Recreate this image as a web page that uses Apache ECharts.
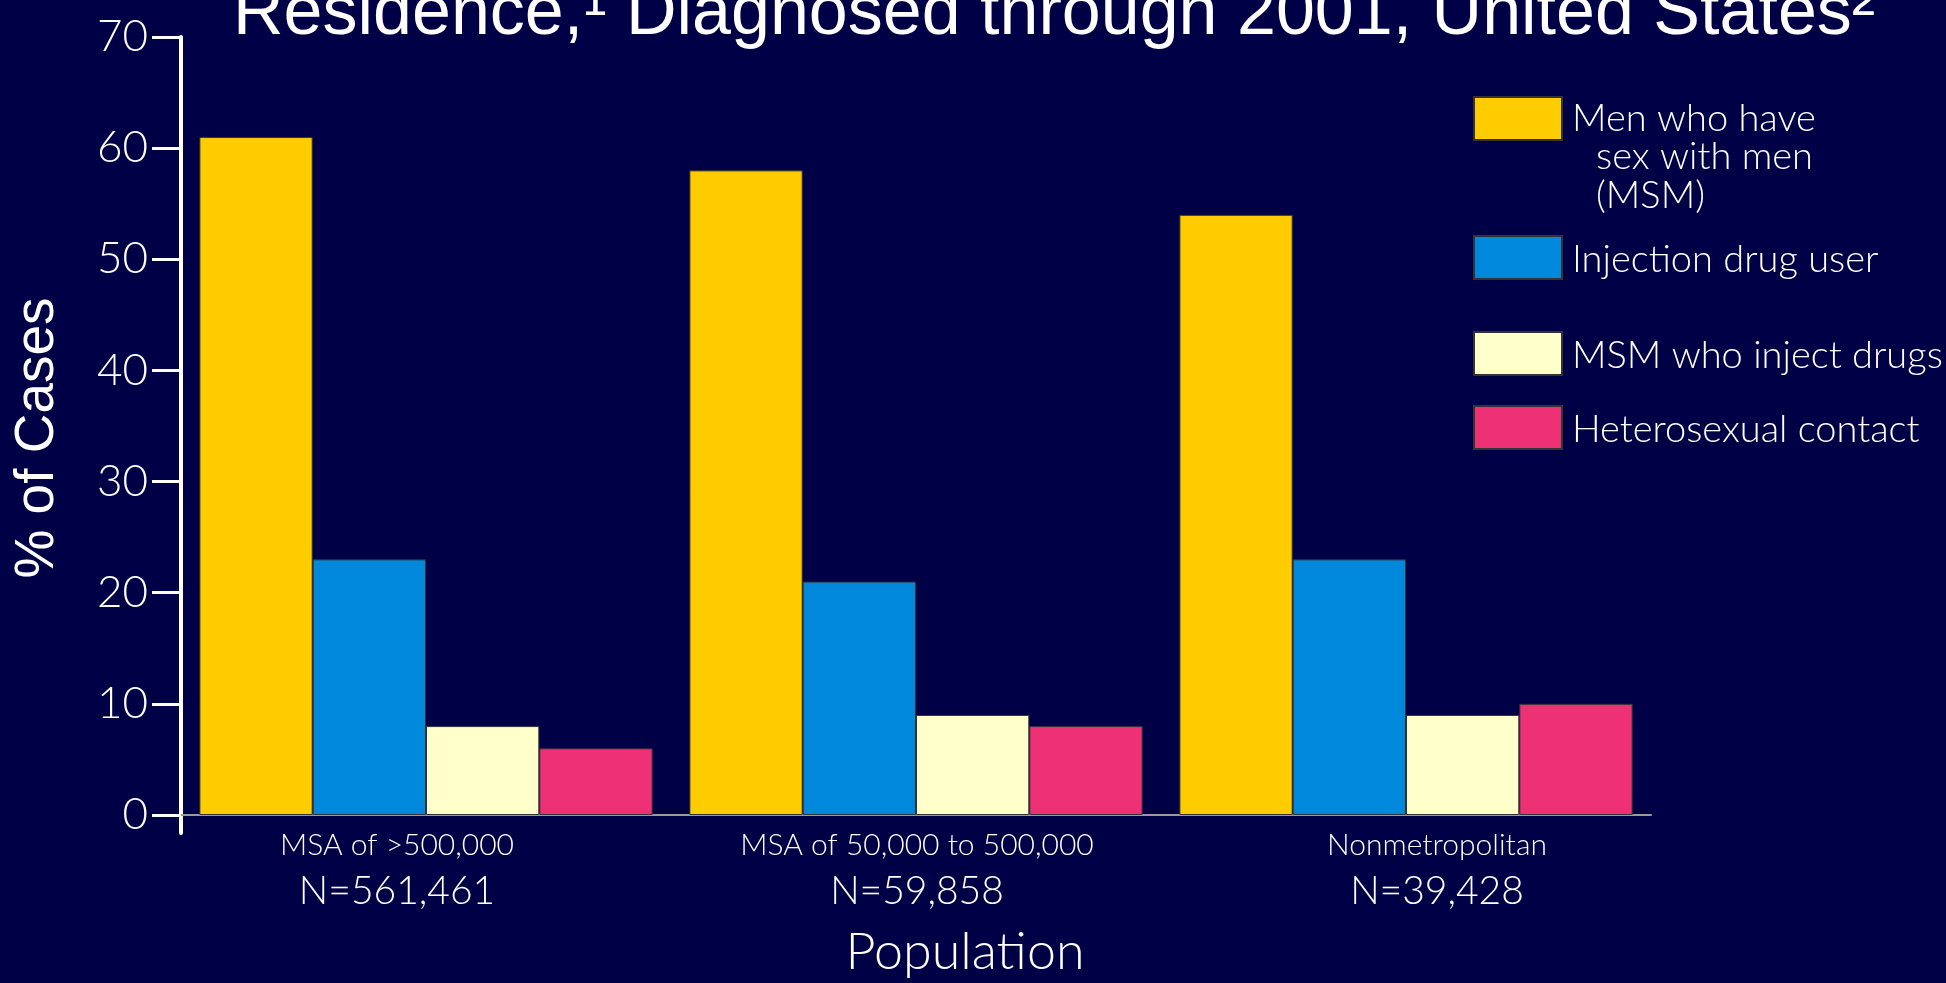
<!DOCTYPE html>
<html>
<head>
<meta charset="utf-8">
<title>AIDS cases by exposure category and area of residence</title>
<script src="https://cdn.jsdelivr.net/npm/echarts@6/dist/echarts.min.js"></script>
<style>
  html, body { margin: 0; padding: 0; background: #000046; }
  #chart { width: 1946px; height: 983px; }
</style>
</head>
<body>
<div id="chart"></div>
<script>
// Area of residence (x-axis groups) and case counts shown under each group
const categories = ['MSA of >500,000', 'MSA of 50,000 to 500,000', 'Nonmetropolitan'];
const caseCounts = ['N=561,461', 'N=59,858', 'N=39,428'];

// Percent of cases by exposure category
const seriesNames = ['Men who have sex with men (MSM)', 'Injection drug user', 'MSM who inject drugs', 'Heterosexual contact'];
const msm = [61, 58, 54];
const idu = [23, 21, 23];
const msmIdu = [8, 9, 9];
const hetero = [6, 8, 10];

// Y-axis range
const yMin = 0;
const yMax = 70;
const yStep = 10;

const colors = ['#FFCC00', '#0088DD', '#FFFFCC', '#EE3175'];
const seriesValues = [msm, idu, msmIdu, hetero];

const FUT = 'Lato, "Noto Sans", sans-serif';
const ARIAL = '"Liberation Sans", Arial, sans-serif';

const chart = echarts.init(document.getElementById('chart'), null, { renderer: 'canvas' });

const legendTops = [96, 235, 331, 405];
const legends = seriesNames.map((name, i) => {
  const first = i === 0;
  return {
    data: [name],
    left: 1473,
    top: legendTops[i],
    padding: 0,
    orient: 'vertical',
    selectedMode: false,
    icon: 'rect',
    itemWidth: 88,
    itemHeight: 43,
    formatter: first ? '{a|Men who have}\n{b|sex with men}\n{b|(MSM)}' : '{a|{name}}',
    textStyle: {
      color: '#ffffff',
      fontFamily: FUT,
      fontWeight: 300,
      fontSize: 38,
      padding: first ? [77, 0, 0, 5] : [4, 0, 0, 5],
      rich: {
        a: { color: '#ffffff', fontFamily: FUT, fontWeight: 300, fontSize: 38, lineHeight: 38.5 },
        b: { color: '#ffffff', fontFamily: FUT, fontWeight: 300, fontSize: 38, lineHeight: 38.5, padding: [0, 0, 0, 24] }
      }
    }
  };
});

const option = {
  backgroundColor: '#000046',
  animation: false,
  title: {
    text: 'Residence,\u00B9 Diagnosed through 2001, United States\u00B2',
    left: 233,
    top: -20,
    padding: 0,
    textStyle: {
      color: '#ffffff',
      fontFamily: ARIAL,
      fontWeight: 'normal',
      fontSize: 70,
      lineHeight: 70
    }
  },
  legend: legends,
  grid: [
    // bars
    { left: 181, right: 295, top: 37, bottom: 168 },
    // group labels under the bars
    { left: 137, right: 249, top: 37, bottom: 168 },
    // vertical axis rule, running slightly below zero
    { left: 181, right: 295, top: 37, bottom: 150 }
  ],
  xAxis: [
    {
      gridIndex: 0,
      type: 'category',
      data: categories,
      axisLine: { show: true, lineStyle: { color: '#9a9a9a', width: 2 } },
      axisTick: { show: false },
      axisLabel: { show: false }
    },
    {
      gridIndex: 1,
      type: 'category',
      data: categories,
      axisLine: { show: false },
      axisTick: { show: false },
      axisLabel: {
        show: true,
        margin: 12,
        interval: 0,
        formatter: (v, idx) => '{a|' + v + '}\n{b|' + caseCounts[idx] + '}',
        rich: {
          a: { color: '#ffffff', fontFamily: FUT, fontWeight: 300, fontSize: 30, lineHeight: 46 },
          b: { color: '#ffffff', fontFamily: FUT, fontWeight: 300, fontSize: 39, lineHeight: 46 }
        }
      },
      name: 'Population',
      nameLocation: 'middle',
      nameGap: 116,
      nameTextStyle: {
        color: '#ffffff',
        fontFamily: FUT,
        fontWeight: 300,
        fontSize: 52,
        lineHeight: 52,
        padding: [0, 0, 0, 96]
      }
    },
    {
      gridIndex: 2,
      type: 'value',
      show: false
    }
  ],
  yAxis: [
    {
      gridIndex: 0,
      type: 'value',
      min: yMin,
      max: yMax,
      interval: yStep,
      axisLine: { show: false },
      axisTick: { show: true, length: 29, lineStyle: { color: '#ffffff', width: 3 } },
      splitLine: { show: false },
      axisLabel: {
        margin: 33,
        color: '#ffffff',
        fontFamily: FUT,
        fontWeight: 300,
        fontSize: 44
      },
      name: '% of Cases',
      nameLocation: 'middle',
      nameGap: 116,
      nameRotate: 90,
      nameTextStyle: {
        color: '#ffffff',
        fontFamily: ARIAL,
        fontSize: 55,
        padding: [0, 24, 0, 0]
      }
    },
    {
      gridIndex: 1,
      type: 'value',
      show: false
    },
    {
      gridIndex: 2,
      type: 'value',
      min: 0,
      max: 1,
      axisLine: { show: true, onZero: false, lineStyle: { color: '#ffffff', width: 4 } },
      axisTick: { show: false },
      axisLabel: { show: false },
      splitLine: { show: false }
    }
  ],
  series: seriesNames.map((name, i) => ({
    name: name,
    type: 'bar',
    xAxisIndex: 0,
    yAxisIndex: 0,
    data: seriesValues[i],
    barGap: '0%',
    barCategoryGap: '7.5%',
    itemStyle: { color: colors[i], borderColor: '#333333', borderWidth: 1 }
  }))
};

chart.setOption(option);
</script>
</body>
</html>
